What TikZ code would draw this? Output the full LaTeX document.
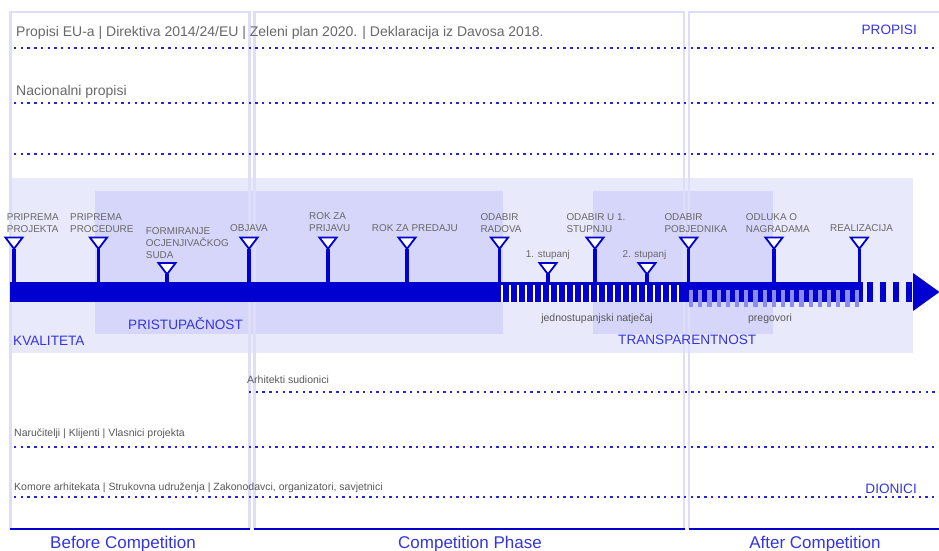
\documentclass[tikz,border=0pt]{standalone}
\usepackage{fontspec}
\setmainfont{Liberation Sans}
\definecolor{dkblue}{RGB}{0,0,208}
\definecolor{txtblue}{RGB}{52,52,226}
\definecolor{dotblue}{RGB}{38,38,214}
\definecolor{greytxt}{RGB}{104,104,104}
\definecolor{reg1}{RGB}{233,233,252}
\definecolor{reg2}{RGB}{214,214,250}
\definecolor{phasecol}{RGB}{222,222,249}
\definecolor{lstripe}{RGB}{140,140,240}
\tikzset{
  dotline/.style={draw=dotblue, line width=1.8pt, dash pattern=on 2.4pt off 4.3pt},
  phasebox/.style={draw=phasecol, line width=2.6pt},
  phaseline/.style={draw=dkblue, line width=2.4pt},
  phaselabel/.style={text=txtblue, font=\fontsize{17}{19}\selectfont, anchor=base, inner sep=0pt},
  bluelabel/.style={text=txtblue, font=\fontsize{13.6}{16}\selectfont, anchor=base west, inner sep=0pt},
  toptext/.style={text=greytxt, font=\fontsize{14}{16}\selectfont, anchor=base west, inner sep=0pt},
  smalltext/.style={text=greytxt!85!black, font=\fontsize{10.5}{12}\selectfont, anchor=base west, inner sep=0pt},
  mlabel/.style={text=greytxt, font=\fontsize{9.9}{12}\selectfont, anchor=base west, inner sep=0pt, align=left},
  stem/.style={draw=dkblue, line width=3.4pt},
  marker/.style={draw=dkblue, line width=1.8pt, fill=white, line join=miter},
}
\begin{document}
\begin{tikzpicture}[x=1pt,y=-1pt]
\useasboundingbox (0,0) rectangle (939,551);
% regions
\fill[reg1] (10,178) rectangle (913,353);
\fill[reg2] (95,191) rectangle (503,334);
\fill[reg2] (593,191) rectangle (773,334);
% phase boxes
\draw[phasebox] (10.5,529) -- (10.5,12) -- (249.5,12) -- (249.5,529);
\draw[phasebox] (254.5,529) -- (254.5,12) -- (684,12) -- (684,529);
\draw[phasebox] (689,529) -- (689,12) -- (941,12);
\draw[phaseline] (10,529) -- (250,529);
\draw[phaseline] (254,529) -- (685,529);
\draw[phaseline] (689,529) -- (940,529);
\node[phaselabel] (ph1) at (123,548) {Before Competition};
\node[phaselabel] (ph2) at (470,548) {Competition Phase};
\node[phaselabel] (ph3) at (815,548) {After Competition};
% dotted lines
\draw[dotline] (14,48.3) -- (940,48.3);
\draw[dotline] (14,102.7) -- (940,102.7);
\draw[dotline] (14,154) -- (940,154);
\draw[dotline] (249,391.7) -- (940,391.7);
\draw[dotline] (14,446.7) -- (940,446.7);
\draw[dotline] (14,497.3) -- (940,497.3);
% texts
\node[toptext] (t1) at (16,36.5) {Propisi EU-a | Direktiva 2014/24/EU | Zeleni plan 2020. | Deklaracija iz Davosa 2018.};
\node[toptext] (t2) at (16,95) {Nacionalni propisi};
\node[bluelabel, anchor=base east] (propisi) at (917,35) {PROPISI};
\node[bluelabel, anchor=base east] (dionici) at (917,493) {DIONICI};
\node[smalltext] (s1) at (247,383) {Arhitekti sudionici};
\node[smalltext] (s2) at (14,436.5) {Naručitelji | Klijenti | Vlasnici projekta};
\node[smalltext] (s3) at (14,490.5) {Komore arhitekata | Strukovna udruženja | Zakonodavci, organizatori, savjetnici};
\node[bluelabel] (kval) at (13,345) {KVALITETA};
\node[bluelabel] (prist) at (128,329) {PRISTUPAČNOST};
\node[bluelabel] (trans) at (618,344) {TRANSPARENTNOST};
\node[smalltext, anchor=base] (jedno) at (597,321) {jednostupanjski natječaj};
\node[smalltext, anchor=base] (preg) at (770,321) {pregovori};
% timeline bar
\fill[dkblue] (10,282) rectangle (500,302);
\fill[dkblue] (500,282) rectangle (688,302);
\foreach \x in {500.5,508.5,...,684}
  \fill[white] (\x,285) rectangle (\x+2.2,302);
\fill[dkblue] (688,282) rectangle (863,302);
\foreach \x in {689,698.2,...,858}
  \fill[lstripe] (\x,290) rectangle (\x+4.2,307);
\foreach \x in {866.5,879.5,892.5,905.5}
  \fill[dkblue] (\x,282) rectangle (\x+6.5,302);
\coordinate (arrowbase) at (913,292);
\fill[dkblue] (913,273) -- (939.5,292) -- (913,311) -- cycle;
\coordinate (bar) at (0,283);
% markers
\foreach \n/\x/\t in {1/14/237.5, 2/98.5/237.5, 3/167/263, 4/249/237.5, 5/328/237.5, 6/407/237.5, 7/499.5/237.5, 8/548/263, 9/595/237.5, 10/647/263, 11/688.7/237.5, 12/774/237.5, 13/859.3/237.5}{
  \coordinate (m\n) at (\x,\t+11.3);
  \draw[stem] (m\n) -- (m\n |- bar);
  \draw[marker] (\x-8.6,\t) -- (\x+8.6,\t) -- (m\n) -- cycle;
}
% milestone labels
\node[mlabel] (l1) at (6.7,232.5) {PRIPREMA\\PROJEKTA};
\node[mlabel] (l2) at (70,232.5) {PRIPREMA\\PROCEDURE};
\node[mlabel] (l3) at (145.7,258) {FORMIRANJE\\OCJENJIVAČKOG\\SUDA};
\node[mlabel] (l4) at (230,231) {OBJAVA};
\node[mlabel] (l5) at (309,231.5) {ROK ZA\\PRIJAVU};
\node[mlabel] (l6) at (371.7,231) {ROK ZA PREDAJU};
\node[mlabel] (l7) at (480.3,232.5) {ODABIR\\RADOVA};
\node[mlabel] (l8) at (525.7,257) {1. stupanj};
\node[mlabel] (l9) at (566.3,232.5) {ODABIR U 1.\\STUPNJU};
\node[mlabel] (l10) at (622.3,257) {2. stupanj};
\node[mlabel] (l11) at (664.3,232.5) {ODABIR\\POBJEDNIKA};
\node[mlabel] (l12) at (745.7,232.5) {ODLUKA O\\NAGRADAMA};
\node[mlabel] (l13) at (830,231) {REALIZACIJA};
\end{tikzpicture}
\end{document}
